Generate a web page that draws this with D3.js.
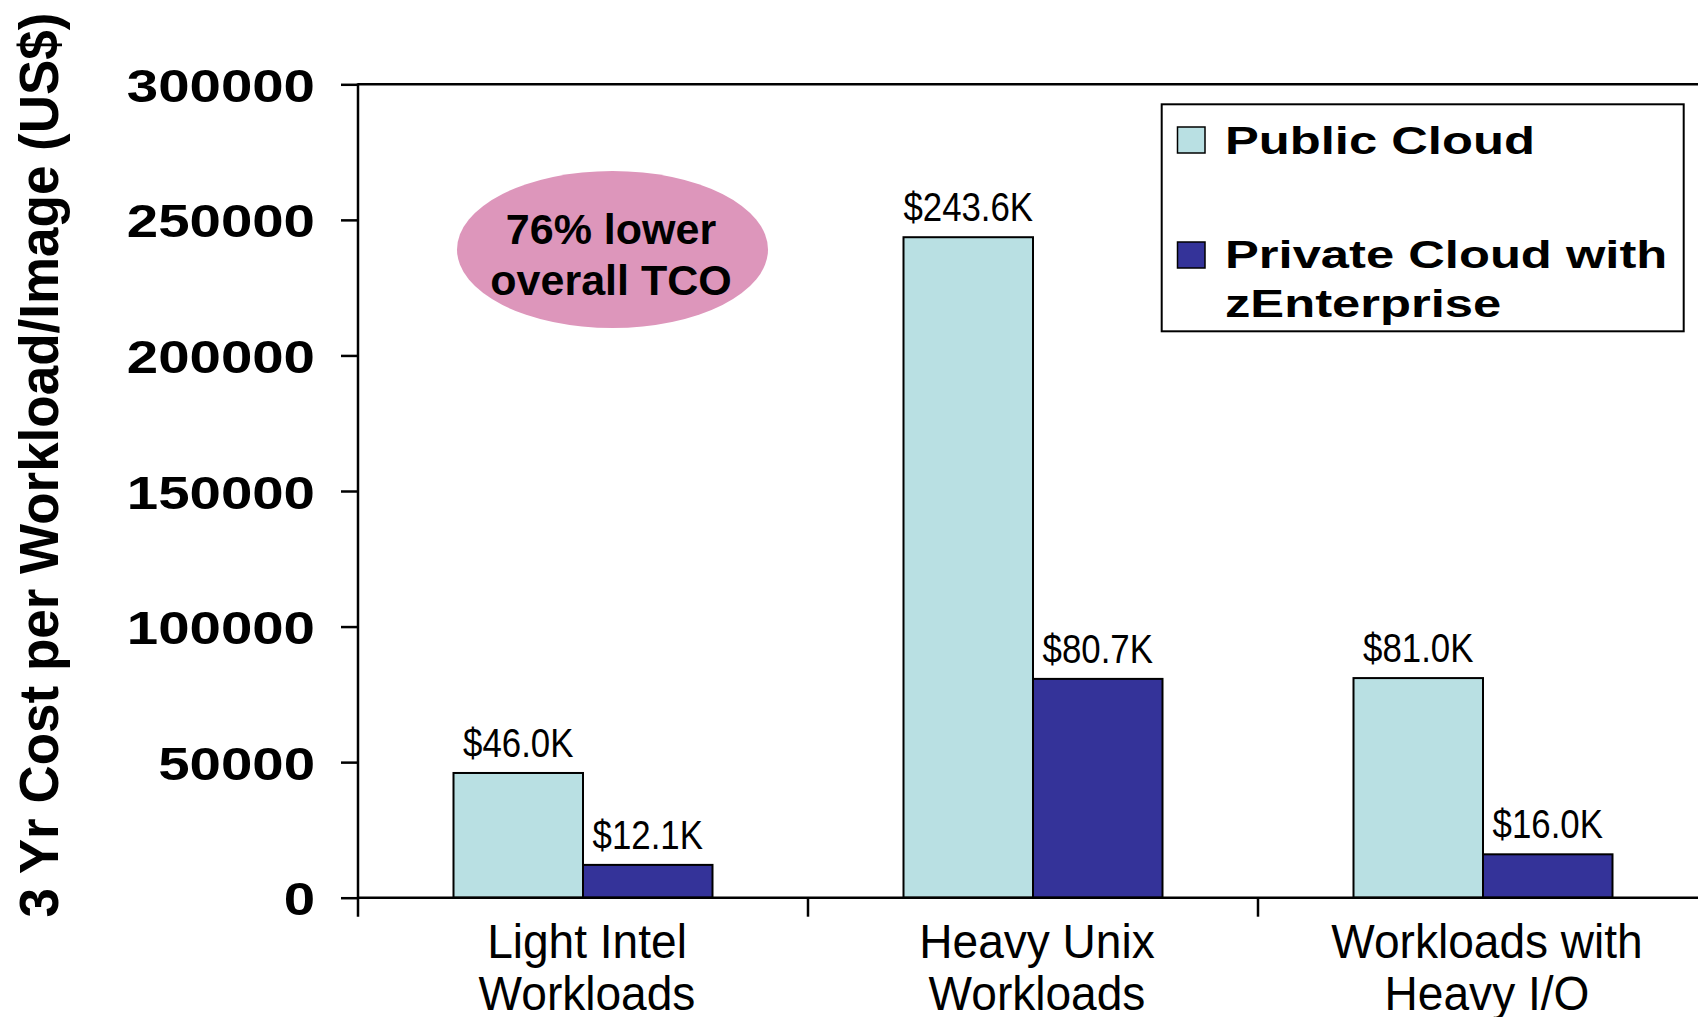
<!DOCTYPE html>
<html>
<head>
<meta charset="utf-8">
<script src="https://cdn.jsdelivr.net/npm/d3@7"></script>
<style>
  html, body { margin: 0; padding: 0; background: #ffffff; }
  svg { display: block; }
  text { font-family: "Liberation Sans", Arial, Helvetica, sans-serif; fill: #000; }
</style>
</head>
<body>
<svg id="chart" width="1698" height="1017"></svg>
<script>
// ---- data ----
const categories = ["Light Intel Workloads", "Heavy Unix Workloads", "Workloads with Heavy I/O"];
const categoryLines = [["Light Intel", "Workloads"], ["Heavy Unix", "Workloads"], ["Workloads with", "Heavy I/O"]];
const seriesNames = ["Public Cloud", "Private Cloud with zEnterprise"];
const legendLines = [["Public Cloud"], ["Private Cloud with", "zEnterprise"]];
const publicCloud = [46000, 243600, 81000];
const privateCloud = [12100, 80700, 16000];
const yTicks = [0, 50000, 100000, 150000, 200000, 250000, 300000];
const yTitle = "3 Yr Cost per Workload/Image (US$)";
const calloutLines = ["76% lower", "overall TCO"];
const colors = ["#B9E0E3", "#343399"];

// ---- layout ----
const svg = d3.select("#chart");
const plotLeft = 358, plotRight = 1708, plotTop = 84.3, plotBottom = 897.7;

const y = d3.scaleLinear().domain([0, 300000]).range([plotBottom, plotTop]);
const x0 = d3.scaleBand().domain(categories).range([plotLeft, plotRight]).padding(0);
const x1 = d3.scaleBand().domain(seriesNames).range([0, x0.bandwidth()])
  .paddingInner(0).paddingOuter(0.7375);

const rows = categories.map((c, i) => ({ cat: c, vals: [publicCloud[i], privateCloud[i]] }));
const fmt = v => "$" + (v / 1000).toFixed(1) + "K";

// ---- bars ----
const g = svg.append("g");
rows.forEach(r => {
  r.vals.forEach((v, j) => {
    const sx = x0(r.cat) + x1(seriesNames[j]);
    g.append("rect")
      .attr("x", sx).attr("y", y(v))
      .attr("width", x1.bandwidth()).attr("height", y(0) - y(v))
      .attr("fill", colors[j]).attr("stroke", "#000").attr("stroke-width", 2);
    g.append("text")
      .attr("transform", `translate(${sx + x1.bandwidth() / 2},${y(v) - 16}) scale(0.87,1)`)
      .attr("text-anchor", "middle")
      .attr("font-size", 40)
      .text(fmt(v));
  });
});

// ---- axes ----
const yAxis = d3.axisLeft(y).tickValues(yTicks).tickSize(17).tickSizeOuter(0).tickFormat(d3.format("d"));
const ya = svg.append("g").attr("transform", `translate(${plotLeft},0)`).call(yAxis);
ya.select(".domain").remove();
ya.selectAll(".tick line").attr("stroke", "#000").attr("stroke-width", 2.5);
ya.selectAll(".tick text")
  .attr("x", 0).attr("dy", null)
  .attr("transform", "translate(-43,17) scale(1.2,1)")
  .attr("text-anchor", "end")
  .attr("font-size", 47).attr("font-weight", "bold")
  .style("font-family", '"Liberation Sans", Arial, sans-serif')
  .attr("fill", "#000");

// axis lines
svg.append("line").attr("x1", plotLeft).attr("x2", plotLeft)
  .attr("y1", y(300000) - 1).attr("y2", y(0) + 19)
  .attr("stroke", "#000").attr("stroke-width", 2.5);
svg.append("line").attr("x1", plotLeft).attr("x2", plotRight)
  .attr("y1", y(0)).attr("y2", y(0))
  .attr("stroke", "#000").attr("stroke-width", 2.5);
svg.append("line").attr("x1", plotLeft).attr("x2", plotRight)
  .attr("y1", y(300000)).attr("y2", y(300000))
  .attr("stroke", "#000").attr("stroke-width", 2.5);

// x ticks at category boundaries
const boundaries = categories.map(c => x0(c)).concat([x0.range()[1]]);
boundaries.slice(1).forEach(bx => {
  svg.append("line").attr("x1", bx).attr("x2", bx)
    .attr("y1", y(0)).attr("y2", y(0) + 19)
    .attr("stroke", "#000").attr("stroke-width", 2.5);
});

// category labels
categories.forEach((c, i) => {
  const cx = x0(c) + x0.bandwidth() / 2 + 4;
  categoryLines[i].forEach((ln, k) => {
    svg.append("text")
      .attr("transform", `translate(${cx},${958 + k * 52}) scale(0.96,1)`)
      .attr("text-anchor", "middle")
      .attr("font-size", 48)
      .text(ln);
  });
});

// y title
svg.append("text")
  .attr("transform", "translate(58,465) scale(1.05,1) rotate(-90)")
  .attr("text-anchor", "middle")
  .attr("font-size", 53).attr("font-weight", "bold")
  .text(yTitle);

// ---- callout ellipse ----
svg.append("ellipse")
  .attr("cx", 612.5).attr("cy", 249.5).attr("rx", 155.5).attr("ry", 78.5)
  .attr("fill", "#DD96BB");
calloutLines.forEach((ln, k) => {
  svg.append("text")
    .attr("x", 611).attr("y", 244 + k * 51)
    .attr("text-anchor", "middle")
    .attr("font-size", 43).attr("font-weight", "bold")
    .text(ln);
});

// ---- legend ----
const lg = svg.append("g");
lg.append("rect").attr("x", 1161.7).attr("y", 104.3).attr("width", 522).attr("height", 227)
  .attr("fill", "#fff").attr("stroke", "#000").attr("stroke-width", 2);
const legendSwatchY = [127, 242];
const legendBaselines = [[154], [268, 317]];
seriesNames.forEach((s, j) => {
  lg.append("rect").attr("x", 1177.5).attr("y", legendSwatchY[j]).attr("width", 27.5).attr("height", 26)
    .attr("fill", colors[j]).attr("stroke", "#000").attr("stroke-width", 1.5);
  legendLines[j].forEach((ln, k) => {
    lg.append("text")
      .attr("transform", `translate(1225,${legendBaselines[j][k]}) scale(1.335,1)`)
      .attr("font-size", 38).attr("font-weight", "bold")
      .text(ln);
  });
});
</script>
</body>
</html>
